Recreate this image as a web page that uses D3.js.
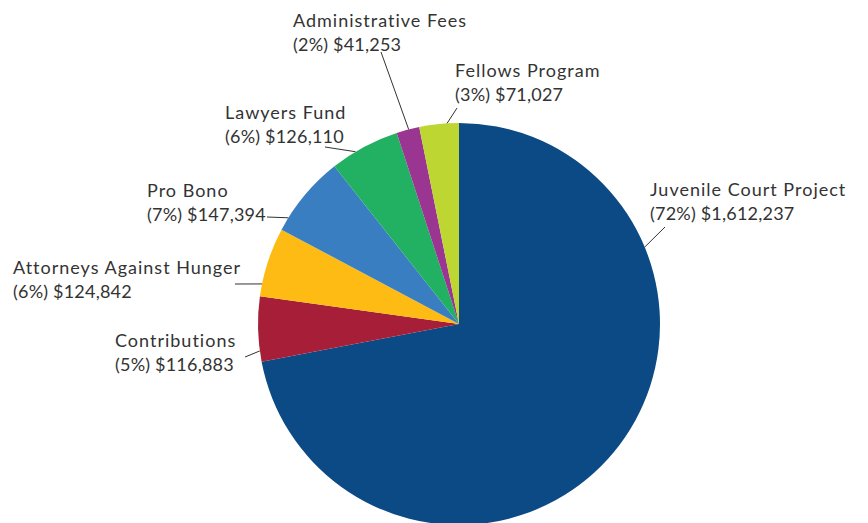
<!DOCTYPE html>
<html>
<head>
<meta charset="utf-8">
<script src="https://cdn.jsdelivr.net/npm/d3@7"></script>
<style>
  body { margin: 0; background: #fff; }
  text { font-family: Lato, "Open Sans", sans-serif; font-size: 18px; fill: #333; }
  .name { letter-spacing: 1px; }
  .amount { letter-spacing: 0.2px; }
</style>
</head>
<body>
<script>
// chart data (clockwise from 12 o'clock)
var categories = ["Juvenile Court Project", "Contributions", "Attorneys Against Hunger",
                  "Pro Bono", "Lawyers Fund", "Administrative Fees", "Fellows Program"];
var amounts = [1612237, 116883, 124842, 147394, 126110, 41253, 71027];
var percents = ["72%", "5%", "6%", "7%", "6%", "2%", "3%"];
var colors = ["#0b4a84", "#a61e37", "#fdbb13", "#3a7ec2", "#22b062", "#9a3591", "#bdd631"];

// label placement: text x/y (first baseline), leader outer end, angle where leader meets pie
var labelLayout = [
  {x: 650, y: 196, lx: 665, ly: 227, touch: 67.5},
  {x: 115, y: 347, lx: 245, ly: 357, touch: 262.3},
  {x: 13,  y: 274, lx: 235, ly: 284, touch: 281.5},
  {x: 147, y: 197, lx: 267, ly: 217, touch: 301.9},
  {x: 225, y: 119, lx: 325, ly: 147, touch: 329},
  {x: 293, y: 27,  lx: 381, ly: 52,  touch: 345.5},
  {x: 455, y: 77,  lx: 457, ly: 108, touch: 356.6}
];

var width = 868, height = 523,
    cx = 459, cy = 324, radius = 201;

var fmt = d3.format(",");

var svg = d3.select("body").append("svg")
    .attr("width", width)
    .attr("height", height);

var pie = d3.pie().sort(null).value(function(d) { return d; });
var arc = d3.arc().innerRadius(0).outerRadius(radius);

var g = svg.append("g")
    .attr("transform", "translate(" + cx + "," + cy + ")");

g.selectAll(".slice")
    .data(pie(amounts))
    .enter().append("path")
    .attr("class", "slice")
    .attr("d", arc)
    .attr("fill", function(d, i) { return colors[i]; });

// leader lines
svg.selectAll(".leader")
    .data(labelLayout)
    .enter().append("line")
    .attr("class", "leader")
    .attr("x1", function(d) { return cx + d3.pointRadial(d.touch * Math.PI / 180, radius)[0]; })
    .attr("y1", function(d) { return cy + d3.pointRadial(d.touch * Math.PI / 180, radius)[1]; })
    .attr("x2", function(d) { return d.lx; })
    .attr("y2", function(d) { return d.ly; })
    .attr("stroke", "#333")
    .attr("stroke-width", 1);

var labels = svg.selectAll(".label")
    .data(labelLayout)
    .enter().append("text")
    .attr("class", "label")
    .attr("x", function(d) { return d.x; })
    .attr("y", function(d) { return d.y; });

labels.append("tspan")
    .attr("class", "name")
    .attr("x", function(d) { return d.x; })
    .text(function(d, i) { return categories[i]; });

labels.append("tspan")
    .attr("class", "amount")
    .attr("x", function(d) { return d.x; })
    .attr("dy", 23.5)
    .text(function(d, i) { return "(" + percents[i] + ") $" + fmt(amounts[i]); });
</script>
</body>
</html>
